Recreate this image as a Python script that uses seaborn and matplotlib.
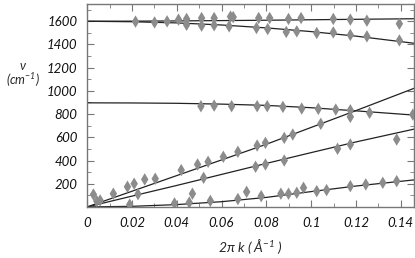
import numpy as np
import pandas as pd
import matplotlib
matplotlib.use("Agg")
import matplotlib.pyplot as plt
import matplotlib.ticker as mticker
import seaborn as sns

# measured points (2*pi*k in 1/A, frequency in cm^-1)
k_up = [0.0216, 0.0301, 0.0357, 0.0408, 0.0444, 0.0511, 0.0567, 0.0640, 0.0652,
        0.0766, 0.0815, 0.0899, 0.0955, 0.1099, 0.1175, 0.1249, 0.1394]
w_up = [1597, 1590, 1599, 1614, 1620, 1628, 1628, 1640, 1636,
        1628, 1628, 1620, 1628, 1620, 1614, 1605, 1579]

k_lo = [0.0444, 0.0511, 0.0567, 0.0634, 0.0756, 0.0806, 0.0889, 0.0936, 0.1025,
        0.1099, 0.1175, 0.1249, 0.1394]
w_lo = [1570, 1562, 1566, 1556, 1542, 1533, 1508, 1513, 1499, 1504, 1482, 1470, 1435]

k_mid = [0.0508, 0.0567, 0.0645, 0.0759, 0.0804, 0.0874, 0.0958, 0.1032, 0.1110,
         0.1175, 0.1175, 0.1261, 0.1454]
w_mid = [868, 873, 868, 868, 868, 862, 848, 845, 839, 833, 776, 811, 796]

k_ac1 = [0.0028, 0.0043, 0.0058, 0.0117, 0.0180, 0.0210, 0.0257, 0.0304, 0.0420,
         0.0493, 0.0540, 0.0608, 0.0673, 0.0759, 0.0796, 0.0880, 0.0918, 0.1043]
w_ac1 = [107, 50, 56, 114, 174, 200, 237, 243, 317, 366, 389, 432, 475, 529, 552,
         595, 624, 716]

k_ac2 = [0.0227, 0.0520, 0.0752, 0.0796, 0.0880, 0.1118, 0.1175, 0.1382]
w_ac2 = [110, 251, 346, 366, 400, 501, 538, 581]

k_ac3 = [0.0190, 0.0390, 0.0456, 0.0470, 0.0550, 0.0673, 0.0712, 0.0777, 0.0865,
         0.0899, 0.0936, 0.0966, 0.1025, 0.1069, 0.1175, 0.1244, 0.1320, 0.1382]
w_ac3 = [20, 30, 38, 114, 52, 68, 130, 93, 114, 114, 122, 165, 136, 145, 179, 194,
         208, 222]

# fitted curves
line_k = [0, 0.02, 0.04, 0.06, 0.08, 0.10, 0.12, 0.147]
fit_up = [1600, 1601, 1603, 1606, 1609, 1613, 1617, 1622]
fit_lo = [1600, 1596, 1586, 1568, 1543, 1511, 1472, 1408]
fit_mid = [897, 896, 893, 886, 875, 855, 828, 790]
fit_ac1 = [0, 135, 270, 405, 540, 685, 830, 1030]
fit_ac2 = [0, 93, 185, 280, 375, 468, 560, 675]
fit_ac3 = [0, 5, 20, 45, 82, 132, 180, 235]

sns.set_style("ticks")
plt.rcParams['font.family'] = ['Lato', 'DejaVu Sans']
plt.rcParams['font.style'] = 'italic'
plt.rcParams['mathtext.fontset'] = 'custom'
plt.rcParams['mathtext.rm'] = 'Lato:italic'
plt.rcParams['mathtext.it'] = 'Lato:italic'

pts = pd.concat([
    pd.DataFrame({'k': k_up, 'w': w_up}),
    pd.DataFrame({'k': k_lo, 'w': w_lo}),
    pd.DataFrame({'k': k_mid, 'w': w_mid}),
    pd.DataFrame({'k': k_ac1, 'w': w_ac1}),
    pd.DataFrame({'k': k_ac2, 'w': w_ac2}),
    pd.DataFrame({'k': k_ac3, 'w': w_ac3}),
])

fig = plt.figure(figsize=(4.15, 2.58), dpi=100)
ax = fig.add_axes([0.21, 0.198, 0.788, 0.787])

for fit in [fit_up, fit_lo, fit_mid, fit_ac1, fit_ac2, fit_ac3]:
    sns.lineplot(x=line_k, y=fit, ax=ax, color='#222222', lw=0.9, estimator=None)

sns.scatterplot(data=pts, x='k', y='w', ax=ax, marker='d', s=40,
                color='#8c8c8c', edgecolor='none', zorder=3)

ax.set_xlim(0, 0.146)
ax.set_ylim(0, 1750)
ax.xaxis.set_major_locator(mticker.MultipleLocator(0.02))
ax.xaxis.set_minor_locator(mticker.MultipleLocator(0.01))
ax.yaxis.set_major_locator(mticker.FixedLocator([200, 400, 600, 800, 1000, 1200, 1400, 1600]))
ax.yaxis.set_minor_locator(mticker.MultipleLocator(100))
ax.xaxis.set_major_formatter(mticker.FormatStrFormatter('%g'))
ax.tick_params(which='both', direction='in', top=True, right=True,
               color='#777777', labelsize=9.5, labelcolor='#111111', pad=7)
ax.tick_params(which='major', length=5)
ax.tick_params(which='minor', length=3)
for s in ax.spines.values():
    s.set_color('#777777')
    s.set_linewidth(1.0)

ax.set_xlabel(r'2$\pi$ k ( Å$^{-1}$ )', fontsize=10, labelpad=6)
ax.set_ylabel('')
fig.text(0.055, 0.745, 'ν', fontsize=9, ha='center', va='center')
fig.text(0.055, 0.69, '(cm$^{-1}$)', fontsize=9, ha='center', va='center')

fig.savefig('out.png', dpi=100)
